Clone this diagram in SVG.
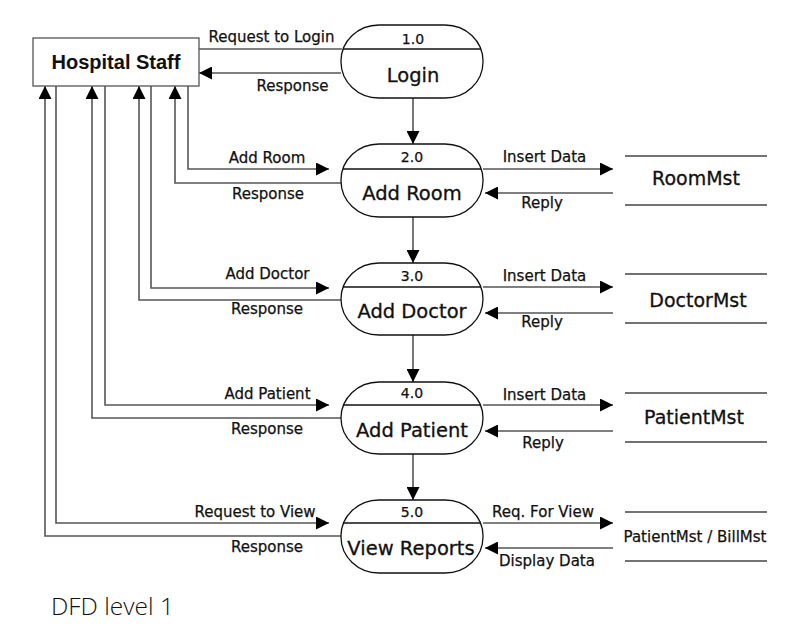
<svg xmlns="http://www.w3.org/2000/svg" width="801" height="624" viewBox="0 0 801 624">
<style>
  .bg { fill: #ffffff; }
  .proc { fill: #ffffff; stroke: #111111; stroke-width: 1.3; }
  .div { stroke: #111111; stroke-width: 1.3; }
  .ent { fill: #ffffff; stroke: #555555; stroke-width: 1.3; }
  .store { stroke: #444444; stroke-width: 1.5; }
  .flow { fill: none; stroke: #555555; stroke-width: 1.6; }
  .arr { fill: none; stroke: #555555; stroke-width: 1.6; marker-end: url(#ah); }
  .lbl { font-family: "DejaVu Sans", sans-serif; font-size: 15px; fill: #111111; text-anchor: middle; stroke: #111111; stroke-width: 0.25; }
  .num { font-family: "DejaVu Sans", sans-serif; font-size: 14px; fill: #111111; text-anchor: middle; stroke: #111111; stroke-width: 0.25; }
  .title { font-family: "DejaVu Sans", sans-serif; font-size: 19.5px; fill: #111111; text-anchor: middle; stroke: #111111; stroke-width: 0.3; }
  .stxt { font-family: "DejaVu Sans", sans-serif; font-size: 19px; fill: #111111; text-anchor: middle; stroke: #111111; stroke-width: 0.3; }
  .ent-txt { font-family: "Liberation Sans", Arial, sans-serif; font-weight: bold; font-size: 20px; fill: #111111; text-anchor: middle; }
  .cap { font-family: "Open Sans", sans-serif; font-weight: 300; font-size: 24.5px; fill: #111111; }
</style>
<defs>
  <marker id="ah" markerUnits="userSpaceOnUse" markerWidth="13" markerHeight="13" viewBox="0 0 13 13" refX="13" refY="6.5" orient="auto">
    <path d="M0,0 L13,6.5 L0,13 Z" fill="#000000"/>
  </marker>
</defs>
<rect class="bg" x="0" y="0" width="801" height="624"/>

<g id="connectors">
  <line class="flow" x1="199" y1="49" x2="342" y2="49"/>
  <line class="arr" x1="341" y1="73" x2="199" y2="73"/>
  <line class="arr" x1="413" y1="98" x2="413" y2="144"/>

  <polyline class="arr" points="188,86 188,169 329,169"/>
  <polyline class="arr" points="341,183 175,183 175,86"/>
  <line class="arr" x1="483" y1="169" x2="613" y2="169"/>
  <line class="arr" x1="613" y1="193" x2="485" y2="193"/>
  <line class="arr" x1="413" y1="217" x2="413" y2="263"/>

  <polyline class="arr" points="151,86 151,288 329,288"/>
  <polyline class="arr" points="341,300 139,300 139,86"/>
  <line class="arr" x1="483" y1="287" x2="613" y2="287"/>
  <line class="arr" x1="613" y1="313" x2="485" y2="313"/>
  <line class="arr" x1="413" y1="335" x2="413" y2="382"/>

  <polyline class="arr" points="105,86 105,405 329,405"/>
  <polyline class="arr" points="341,418 92,418 92,86"/>
  <line class="arr" x1="483" y1="405" x2="613" y2="405"/>
  <line class="arr" x1="613" y1="431" x2="485" y2="431"/>
  <line class="arr" x1="413" y1="454" x2="413" y2="500"/>

  <polyline class="arr" points="56,86 56,523 329,523"/>
  <polyline class="arr" points="341,536 45,536 45,86"/>
  <line class="arr" x1="483" y1="523" x2="613" y2="523"/>
  <line class="arr" x1="613" y1="548" x2="485" y2="548"/>

  <text class="lbl" x="271.5" y="42">Request to Login</text>
  <text class="lbl" x="292.5" y="90.5">Response</text>
  <text class="lbl" x="267" y="163">Add Room</text>
  <text class="lbl" x="268" y="198.5">Response</text>
  <text class="lbl" x="544.5" y="162">Insert Data</text>
  <text class="lbl" x="542" y="208">Reply</text>
  <text class="lbl" x="267.5" y="279">Add Doctor</text>
  <text class="lbl" x="267" y="314">Response</text>
  <text class="lbl" x="544.5" y="281">Insert Data</text>
  <text class="lbl" x="542" y="327">Reply</text>
  <text class="lbl" x="267.5" y="399">Add Patient</text>
  <text class="lbl" x="267" y="434">Response</text>
  <text class="lbl" x="544.5" y="400">Insert Data</text>
  <text class="lbl" x="543" y="448">Reply</text>
  <text class="lbl" x="255" y="517">Request to View</text>
  <text class="lbl" x="267" y="552">Response</text>
  <text class="lbl" x="543" y="517">Req. For View</text>
  <text class="lbl" x="547" y="566">Display Data</text>
</g>

<g id="hospital-staff">
  <rect class="ent" x="33" y="38" width="166" height="48"/>
  <text class="ent-txt" x="116" y="69">Hospital Staff</text>
</g>

<g id="p1-login">
  <rect class="proc" x="341" y="25" width="142" height="73" rx="38" ry="36"/>
  <line class="div" x1="343" y1="49" x2="481" y2="49"/>
  <text class="num" x="413" y="44">1.0</text>
  <text class="title" x="413" y="82">Login</text>
</g>

<g id="p2-add-room">
  <rect class="proc" x="341" y="144" width="142" height="73" rx="38" ry="36"/>
  <line class="div" x1="343" y1="169" x2="481" y2="169"/>
  <text class="num" x="412" y="162">2.0</text>
  <text class="title" x="412" y="200">Add Room</text>
</g>

<g id="p3-add-doctor">
  <rect class="proc" x="341" y="263" width="142" height="72" rx="38" ry="36"/>
  <line class="div" x1="343" y1="287" x2="481" y2="287"/>
  <text class="num" x="412" y="281">3.0</text>
  <text class="title" x="412" y="318">Add Doctor</text>
</g>

<g id="p4-add-patient">
  <rect class="proc" x="341" y="382" width="142" height="72" rx="38" ry="36"/>
  <line class="div" x1="343" y1="405" x2="481" y2="405"/>
  <text class="num" x="412" y="398">4.0</text>
  <text class="title" x="412" y="437">Add Patient</text>
</g>

<g id="p5-view-reports">
  <rect class="proc" x="341" y="500" width="142" height="73" rx="38" ry="36"/>
  <line class="div" x1="343" y1="523" x2="481" y2="523"/>
  <text class="num" x="412" y="517">5.0</text>
  <text class="title" x="411" y="555">View Reports</text>
</g>

<g id="ds-roommst">
  <line class="store" x1="625" y1="156" x2="767" y2="156"/>
  <line class="store" x1="625" y1="205" x2="767" y2="205"/>
  <text class="stxt" x="696" y="185">RoomMst</text>
</g>

<g id="ds-doctormst">
  <line class="store" x1="625" y1="274" x2="767" y2="274"/>
  <line class="store" x1="625" y1="323" x2="767" y2="323"/>
  <text class="stxt" x="698" y="307">DoctorMst</text>
</g>

<g id="ds-patientmst">
  <line class="store" x1="625" y1="393" x2="767" y2="393"/>
  <line class="store" x1="625" y1="442" x2="767" y2="442"/>
  <text class="stxt" x="694" y="424">PatientMst</text>
</g>

<g id="ds-patient-billmst">
  <line class="store" x1="625" y1="512" x2="767" y2="512"/>
  <line class="store" x1="625" y1="561" x2="767" y2="561"/>
  <text class="lbl" x="695" y="542">PatientMst / BillMst</text>
</g>

<text class="cap" x="51" y="615">DFD level 1</text>
</svg>
